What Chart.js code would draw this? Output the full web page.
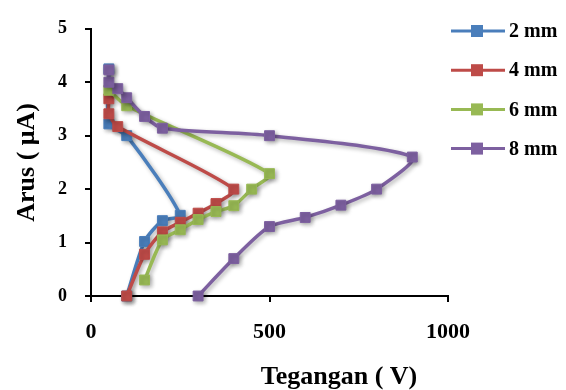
<!DOCTYPE html>
<html>
<head>
<meta charset="utf-8">
<script src="https://cdn.jsdelivr.net/npm/chart.js@4/dist/chart.umd.min.js"></script>
<style>
html, body { margin: 0; padding: 0; background: #fff; }
</style>
</head>
<body>
<canvas id="grafik" width="566" height="390"></canvas>
<script>
// tick label sumbu
const tickTegangan = [0, 500, 1000];
const tickArus = [0, 1, 2, 3, 4, 5];

// nama seri (jarak elektroda)
const namaSeri = ['2 mm', '4 mm', '6 mm', '8 mm'];

// 2 mm
const tegangan2 = [100, 150, 200, 250, 100, 50, 50];
const arus2 = [0, 1.02, 1.41, 1.51, 3.0, 3.22, 4.25];

// 4 mm
const tegangan4 = [100, 150, 200, 250, 300, 350, 400, 75, 50, 50];
const arus4 = [0, 0.78, 1.2, 1.38, 1.55, 1.73, 2.0, 3.17, 3.41, 3.69];

// 6 mm
const tegangan6 = [150, 200, 250, 300, 350, 400, 450, 500, 100, 50];
const arus6 = [0.3, 1.05, 1.24, 1.43, 1.58, 1.69, 2.0, 2.29, 3.56, 3.85];

// 8 mm
const tegangan8 = [300, 400, 500, 600, 700, 800, 900, 500, 200, 150, 100, 75, 50, 50];
const arus8 = [0, 0.7, 1.3, 1.47, 1.7, 2.0, 2.6, 3.0, 3.14, 3.36, 3.71, 3.88, 4.0, 4.23];

const warna = ['#4A7EBB', '#BE4B48', '#98B954', '#7D60A0'];
const huruf = "'Liberation Serif', 'Times New Roman', serif";

function jadikanTitik(xs, ys) {
    return xs.map((x, i) => ({ x: x, y: ys[i] }));
}

const semuaData = [
    jadikanTitik(tegangan2, arus2),
    jadikanTitik(tegangan4, arus4),
    jadikanTitik(tegangan6, arus6),
    jadikanTitik(tegangan8, arus8)
];

// bayangan garis seperti Excel
const bayangan = {
    id: 'bayangan',
    beforeDatasetsDraw(chart) {
        const ctx = chart.ctx;
        ctx.save();
        ctx.shadowColor = 'rgba(0,0,0,0.3)';
        ctx.shadowBlur = 4;
        ctx.shadowOffsetX = 2;
        ctx.shadowOffsetY = 2;
    },
    afterDatasetsDraw(chart) {
        chart.ctx.restore();
    }
};

// legenda di kanan (garis + kotak)
const legendaKanan = {
    id: 'legendaKanan',
    afterDraw(chart) {
        const ctx = chart.ctx;
        ctx.save();
        chart.data.datasets.forEach((ds, i) => {
            const y = 31 + i * 39.2;
            ctx.strokeStyle = ds.borderColor;
            ctx.lineWidth = 3;
            ctx.beginPath();
            ctx.moveTo(451, y);
            ctx.lineTo(505, y);
            ctx.stroke();
            ctx.fillStyle = ds.backgroundColor;
            ctx.fillRect(471, y - 6, 12, 12);
            ctx.fillStyle = '#000';
            ctx.font = 'bold 20px ' + huruf;
            ctx.textBaseline = 'middle';
            ctx.textAlign = 'left';
            ctx.fillText(ds.label, 509, y + 1);
        });
        ctx.restore();
    }
};

// judul sumbu x (posisinya tidak di tengah area plot)
const judulX = {
    id: 'judulX',
    afterDraw(chart) {
        const ctx = chart.ctx;
        ctx.save();
        ctx.fillStyle = '#000';
        ctx.font = 'bold 26px ' + huruf;
        ctx.textAlign = 'center';
        ctx.textBaseline = 'middle';
        ctx.fillText('Tegangan ( V)', 339, 377);
        ctx.restore();
    }
};

const ctx = document.getElementById('grafik').getContext('2d');
const grafik = new Chart(ctx, {
    type: 'scatter',
    data: {
        datasets: semuaData.map((d, i) => ({
            label: namaSeri[i],
            data: d,
            showLine: true,
            tension: 0.25,
            borderColor: warna[i],
            backgroundColor: warna[i],
            borderWidth: 3.5,
            pointStyle: 'rect',
            pointRadius: 7,
            pointBorderWidth: 1,
            pointBackgroundColor: warna[i],
            pointBorderColor: warna[i],
            order: 3 - i,
            clip: false
        }))
    },
    options: {
        responsive: false,
        animation: false,
        layout: { padding: { top: 21, right: 118, bottom: 0, left: 0 } },
        plugins: {
            legend: { display: false },
            tooltip: { enabled: false }
        },
        scales: {
            x: {
                type: 'linear',
                min: 0,
                max: 1000,
                afterBuildTicks: s => { s.ticks = tickTegangan.map(v => ({ value: v })); },
                afterFit: s => { s.height = 94; s.paddingLeft = 0; s.paddingRight = 0; },
                grid: { display: true, drawOnChartArea: false, drawTicks: true, tickLength: 6, color: '#000', lineWidth: 2 },
                border: { color: '#000', width: 2 },
                ticks: {
                    color: '#000', padding: 17, maxRotation: 0,
                    callback: v => String(v),
                    font: { family: huruf, size: 22, weight: 'bold' }
                }
            },
            y: {
                type: 'linear',
                min: 0,
                max: 5,
                afterBuildTicks: s => { s.ticks = tickArus.map(v => ({ value: v })); },
                afterFit: s => { s.width = 91; },
                grid: { display: true, drawOnChartArea: false, drawTicks: true, tickLength: 6, color: '#000', lineWidth: 2 },
                border: { color: '#000', width: 2 },
                ticks: {
                    color: '#000', padding: 18,
                    callback: v => String(v),
                    font: { family: huruf, size: 18, weight: 'bold' }
                },
                title: {
                    display: true,
                    text: 'Arus ( μA)',
                    color: '#000',
                    padding: { top: 12, bottom: 0 },
                    font: { family: huruf, size: 26, weight: 'bold' }
                }
            }
        }
    },
    plugins: [bayangan, legendaKanan, judulX]
});
</script>
</body>
</html>
